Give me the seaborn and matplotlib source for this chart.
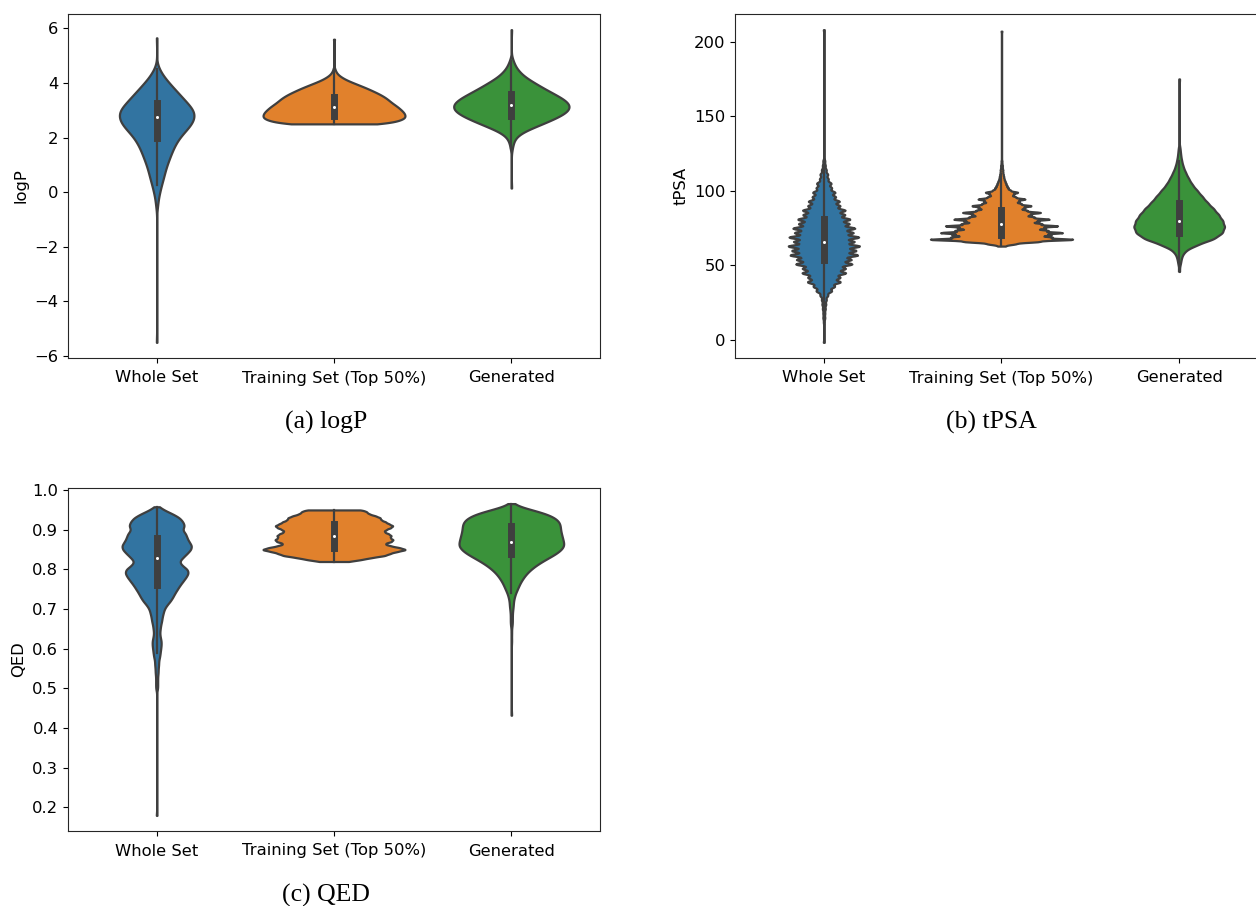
import numpy as np
import pandas as pd
import seaborn as sns
import matplotlib.pyplot as plt

groups = ["Whole Set", "Training Set (Top 50%)", "Generated"]
colors = ["#1f77b4", "#ff7f0e", "#2ca02c"]

# logP: values and how many molecules sit at each value
logp_whole_vals = [-5.5, -0.5, -0.25, 0.0, 0.25, 0.5, 0.75, 1.0, 1.25, 1.5, 1.75, 2.0,
                   2.25, 2.5, 2.75, 3.0, 3.25, 3.5, 3.75, 4.0, 4.25, 4.5, 5.65]
logp_whole_counts = [1, 2, 3, 6, 9, 13, 16, 20, 25, 30, 36, 44,
                     56, 68, 74, 72, 60, 48, 36, 24, 13, 5, 1]
logp_train_vals = [2.5, 2.6, 2.7, 2.8, 2.9, 3.0, 3.1, 3.2, 3.3, 3.4, 3.5, 3.6,
                   3.7, 3.8, 3.9, 4.0, 4.1, 4.2, 4.3, 4.4, 4.5, 5.6]
logp_train_counts = [55, 65, 73, 73, 72, 69, 66, 62, 58, 55, 51, 46,
                     40, 34, 27, 20, 13, 8, 4, 2, 1, 1]
logp_gen_vals = [0.15, 1.6, 1.8, 2.0, 2.2, 2.4, 2.6, 2.8, 3.0, 3.2, 3.4, 3.6,
                 3.8, 4.0, 4.2, 4.4, 4.6, 4.8, 5.95]
logp_gen_counts = [1, 2, 4, 8, 22, 48, 74, 98, 114, 116, 104, 84,
                   64, 46, 28, 16, 8, 4, 1]

# tPSA
tpsa_whole_vals = [-1.5, 12, 15, 18, 21, 24, 27, 30, 33, 36, 39, 42, 45, 48, 51, 54, 57,
                   60, 63, 66, 69, 72, 75, 78, 81, 84, 87, 90, 93, 96, 99, 102, 105,
                   108, 111, 114, 117, 120, 208]
tpsa_whole_counts = [1, 1, 2, 2, 3, 4, 5, 8, 16, 22, 34, 33, 45, 44, 58, 56, 70,
                     66, 74, 62, 72, 60, 64, 52, 54, 43, 44, 33, 32, 24, 23, 16, 15,
                     9, 8, 5, 3, 2, 1]
tpsa_train_vals = [63.0, 64.5, 66.0, 67.5, 69.0, 70.5, 72.0, 73.5, 75.0, 76.5, 78.0,
                   79.5, 81.0, 82.5, 84.0, 85.5, 87.0, 88.5, 90.0, 91.5, 93.0, 94.5,
                   96.0, 97.5, 99.0, 100.5, 102.0, 103.5, 105.0, 106.5, 108.0, 109.5,
                   111.0, 112.5, 114.0, 115.5, 117.0, 118.5, 120.0, 207.0]
tpsa_train_counts = [8, 30, 80, 160, 108, 106, 134, 100, 94, 124, 86,
                     80, 106, 70, 64, 86, 54, 50, 66, 42, 38, 52,
                     30, 26, 36, 19, 15, 12, 10, 8, 6, 5,
                     4, 3, 3, 2, 2, 1, 1, 1]
tpsa_gen_vals = [46, 52, 56, 60, 64, 68, 72, 76, 80, 84, 88, 92, 96, 100, 104, 108,
                 112, 116, 120, 124, 128, 175]
tpsa_gen_counts = [1, 3, 5, 12, 36, 70, 86, 90, 86, 78, 68, 56, 46, 36, 26, 19,
                   13, 8, 5, 3, 2, 1]

# QED
qed_whole_vals = [0.18, 0.50, 0.51, 0.52, 0.53, 0.54, 0.55, 0.56, 0.57, 0.58, 0.59,
                  0.60, 0.61, 0.62, 0.63, 0.64, 0.65, 0.66, 0.67, 0.68, 0.69,
                  0.70, 0.71, 0.72, 0.73, 0.74, 0.75, 0.76, 0.77, 0.78, 0.79,
                  0.80, 0.81, 0.82, 0.83, 0.84, 0.85, 0.86, 0.87, 0.88, 0.89,
                  0.90, 0.91, 0.92, 0.93, 0.94, 0.95, 0.958]
qed_whole_counts = [1, 2, 2, 2, 2, 3, 3, 4, 4, 6, 7,
                    8, 9, 9, 7, 6, 7, 8, 10, 11, 13,
                    15, 20, 27, 32, 36, 41, 46, 52, 58, 63,
                    62, 50, 44, 52, 60, 68, 70, 64, 60, 58,
                    50, 56, 52, 46, 32, 14, 2]
qed_train_vals = [0.820, 0.825, 0.830, 0.835, 0.840, 0.845, 0.850, 0.855, 0.860,
                  0.865, 0.870, 0.875, 0.880, 0.885, 0.890, 0.895, 0.900, 0.905,
                  0.910, 0.915, 0.920, 0.925, 0.930, 0.935, 0.940, 0.945, 0.950]
qed_train_counts = [15, 28, 38, 52, 56, 63, 74, 66, 56,
                    50, 58, 60, 56, 58, 55, 50, 52, 57,
                    60, 55, 52, 47, 47, 42, 35, 33, 30]
qed_gen_vals = [0.4325, 0.62, 0.64, 0.66, 0.67, 0.68, 0.69, 0.70, 0.71, 0.72, 0.73,
                0.74, 0.75, 0.76, 0.77, 0.78, 0.79, 0.80, 0.81, 0.82, 0.83, 0.84,
                0.85, 0.86, 0.87, 0.88, 0.89, 0.90, 0.91, 0.92, 0.93, 0.94, 0.95, 0.96,
                0.966]
qed_gen_counts = [1, 1, 1, 2, 2, 2, 2, 3, 4, 4, 6,
                  8, 12, 15, 19, 24, 30, 38, 48, 60, 74, 88,
                  98, 104, 102, 100, 98, 96, 96, 94, 86, 70, 42, 10, 1]

panels = [
    ("logP", "(a) logP",
     [(logp_whole_vals, logp_whole_counts), (logp_train_vals, logp_train_counts),
      (logp_gen_vals, logp_gen_counts)],
     [0.42, 0.8, 0.65], [0.2, 0.08, 0.15]),
    ("tPSA", "(b) tPSA",
     [(tpsa_whole_vals, tpsa_whole_counts), (tpsa_train_vals, tpsa_train_counts),
      (tpsa_gen_vals, tpsa_gen_counts)],
     [0.40, 0.8, 0.51], [1.1, 0.6, 2.2]),
    ("QED", "(c) QED",
     [(qed_whole_vals, qed_whole_counts), (qed_train_vals, qed_train_counts),
      (qed_gen_vals, qed_gen_counts)],
     [0.39, 0.8, 0.59], [0.0065, 0.0028, 0.008]),
]

W, H = 1256, 906
fig = plt.figure(figsize=(W / 100, H / 100), dpi=100)
axes_px = [(68, 14, 532, 344), (735, 14, 533, 344), (68, 488, 532, 343)]
caption_px = [(326, 422), (991, 422), (326, 895)]

for (ylab, caption, series, widths, bws), (x0, y0, w, h), (cx, cy) in zip(panels, axes_px, caption_px):
    ax = fig.add_axes([x0 / W, 1 - (y0 + h) / H, w / W, h / H])
    for name, (vals, counts), color, vw, bw in zip(groups, series, colors, widths, bws):
        obs = np.repeat(vals, counts)
        df = pd.DataFrame({"group": name, "value": obs})
        sns.violinplot(data=df, x="group", y="value", order=groups, color=color,
                       width=vw, bw_method=bw / obs.std(ddof=1), cut=0, gridsize=500,
                       density_norm="width", inner="box", linewidth=1.6,
                       linecolor="#3f3f3f",
                       inner_kws=dict(box_width=5, whis_width=1.6, marker="o",
                                      markersize=2.2, markerfacecolor="white",
                                      markeredgecolor="white", markeredgewidth=0),
                       ax=ax)
    ax.set_xlabel("")
    ax.set_ylabel(ylab, fontsize=11.8)
    ax.tick_params(labelsize=11.8)
    ax.tick_params(axis="x", pad=5.5)
    for sp in ax.spines.values():
        sp.set_color("#262626")
    fig.text(cx / W, 1 - cy / H, caption, ha="center", va="center",
             fontsize=18.5, family="Liberation Serif")

fig.savefig("out.png", dpi=100)
